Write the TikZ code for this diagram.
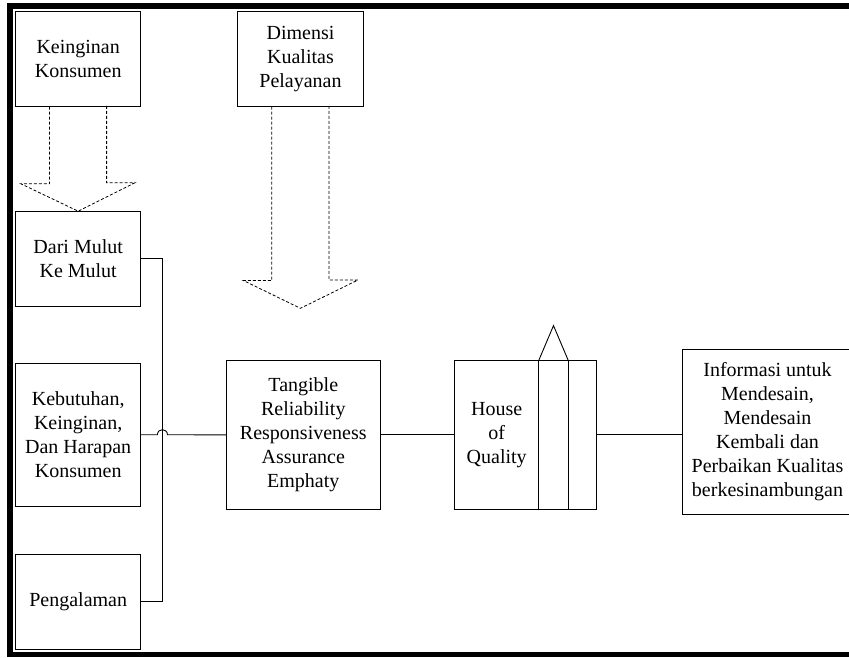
\documentclass[tikz,border=0pt]{standalone}
\usepackage{fontspec}
\setmainfont{Liberation Serif}

\begin{document}
\begin{tikzpicture}[x=1pt, y=-1pt,
	kotak/.style={draw, line width=0.9pt, inner sep=0pt, align=center, font=\fontsize{20}{24}\selectfont},
	garis/.style={line width=0.9pt},
	panah/.style={line width=0.8pt, dash pattern=on 3pt off 2pt}]
	\useasboundingbox (0,0) rectangle (849,657);
	\clip (0,0) rectangle (849,657);
	
	% draw frame
	\fill (6.7,2.7) rectangle (849,9);
	\fill (6.7,2.7) rectangle (13.3,657);
	\fill (6.7,652) rectangle (849,657);
	
	% draw nodes
	\node[kotak, minimum width=125pt, minimum height=94.3pt] (keinginan) at (78.2,58.9) {Keinginan\\Konsumen};
	\node[kotak, minimum width=125.6pt, minimum height=94.3pt] (dimensi) at (300.5,58.9) {Dimensi\\Kualitas\\Pelayanan};
	\node[kotak, minimum width=125pt, minimum height=94.3pt] (mulut) at (78.2,258.8) {Dari Mulut\\Ke Mulut};
	\node[kotak, minimum width=125pt, minimum height=142.7pt] (kebutuhan) at (78.2,434.7) {Kebutuhan,\\Keinginan,\\Dan Harapan\\Konsumen};
	\node[kotak, minimum width=125pt, minimum height=95pt] (pengalaman) at (78.2,601.8) {Pengalaman};
	\node[kotak, minimum width=153.3pt, minimum height=148.3pt] (dimensilist) at (303.3,434.9) {Tangible\\Reliability\\Responsiveness\\Assurance\\Emphaty};
	\node[kotak, minimum width=142.7pt, minimum height=148.3pt] (hoq) at (525.3,434.9) {};
	\node[kotak, draw=none] (hoqteks) at (496.7,434.9) {House\\of\\Quality};
	\node[kotak, minimum width=170.4pt, minimum height=164.7pt] (informasi) at (767.5,431.7) {Informasi untuk\\Mendesain,\\Mendesain\\Kembali dan\\Perbaikan Kualitas\\berkesinambungan};
	\coordinate (dimtip) at (300.4,308.3);
	\coordinate (bus) at (162.3,0);
	
	% draw house of quality
	\draw[garis] (hoq.north west) ++(85.3,0) -- ++(0,148.3);
	\draw[garis] (hoq.north west) ++(114.7,0) -- ++(0,148.3);
	\draw[garis] (hoq.north west) ++(85.3,0) -- ++(14.7,-34.7) -- ++(14.7,34.7);
	
	% draw dashed arrows
	\draw[panah] (keinginan.south) ++(-28.7,0) -- ++(0,77.3) -- ++(-28.6,0) -- (mulut.north) -- ++(56.7,-28.4) -- ++(-28.3,0) -- ++(0,-77.3);
	\draw[panah] (dimensi.south) ++(-28.7,0) -- ++(0,174) -- ++(-28.4,0) -- (dimtip) -- ++(57.5,-28.3) -- ++(-29,0) -- ++(0,-174);
	
	% draw connectors
	\draw[garis] (mulut.east) -| (bus |- pengalaman.east) -- (pengalaman.east);
	\draw[garis] (kebutuhan.east) -- ++(16.3,0) .. controls +(0,-6.7) and +(0,-6.7) .. ++(10,0) -- (dimensilist.west);
	\draw[garis] (dimensilist.east) -- (hoq.west);
	\draw[garis] (hoq.east) -- (informasi.west |- hoq.east);
\end{tikzpicture}
\end{document}
